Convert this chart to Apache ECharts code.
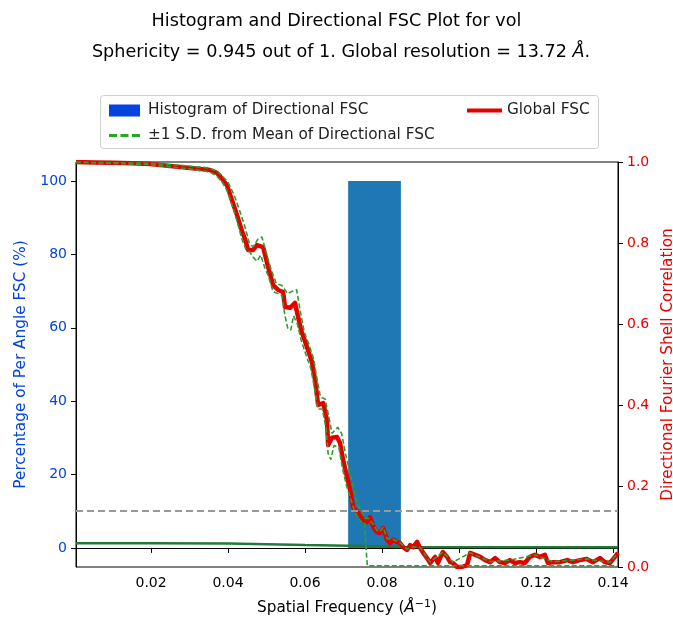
<!DOCTYPE html>
<html>
<head>
<meta charset="utf-8">
<script src="https://cdn.jsdelivr.net/npm/echarts@6/dist/echarts.min.js"></script>
<style>html,body{margin:0;padding:0;background:#fff;overflow:hidden}#c{width:673px;height:621px}</style>
</head>
<body>
<div id="c"></div>
<script>
// ---- data ----
const xTicks = [0.02, 0.04, 0.06, 0.08, 0.10, 0.12, 0.14];
const leftTicks = [0, 20, 40, 60, 80, 100];
const histBinStart = [0.0712];
const histBinEnd = [0.0849];
const histPercent = [100];
const threshold = 0.143;
const globalFSC = [[0.0005,1.0],[0.005,0.999],[0.01,0.998],[0.015,0.997],[0.0197,0.995],[0.0249,0.99],[0.0301,0.985],[0.0327,0.983],[0.0353,0.98],[0.0371,0.973],[0.0379,0.965],[0.0397,0.943],[0.041,0.906],[0.0423,0.87],[0.0436,0.83],[0.0444,0.81],[0.0452,0.783],[0.0465,0.783],[0.0475,0.795],[0.0491,0.79],[0.0504,0.741],[0.0517,0.696],[0.053,0.684],[0.0543,0.679],[0.0548,0.642],[0.0561,0.64],[0.0574,0.652],[0.0582,0.617],[0.0592,0.578],[0.0599,0.56],[0.0605,0.543],[0.0618,0.506],[0.0626,0.462],[0.0634,0.4],[0.0647,0.405],[0.0657,0.363],[0.066,0.301],[0.067,0.319],[0.0683,0.321],[0.0691,0.306],[0.0699,0.264],[0.0709,0.222],[0.0717,0.19],[0.0725,0.148],[0.0735,0.136],[0.0743,0.128],[0.0751,0.116],[0.0761,0.111],[0.0769,0.123],[0.0777,0.099],[0.0787,0.086],[0.0795,0.084],[0.0803,0.096],[0.0813,0.067],[0.0821,0.059],[0.0829,0.067],[0.0839,0.062],[0.0847,0.059],[0.0855,0.049],[0.0865,0.042],[0.0873,0.054],[0.0881,0.049],[0.0891,0.062],[0.0899,0.047],[0.0907,0.035],[0.0917,0.022],[0.0925,0.01],[0.0938,0.025],[0.0945,0.01],[0.0958,0.037],[0.0969,0.025],[0.0977,0.012],[0.0984,0.01],[0.0995,0.0],[0.1008,0.0],[0.1021,0.005],[0.1029,0.035],[0.1042,0.03],[0.1055,0.025],[0.1068,0.017],[0.1081,0.012],[0.1094,0.022],[0.1106,0.012],[0.1119,0.01],[0.1132,0.017],[0.1145,0.01],[0.1158,0.012],[0.1171,0.01],[0.1184,0.025],[0.1197,0.03],[0.121,0.025],[0.1223,0.03],[0.1231,0.01],[0.1244,0.012],[0.1262,0.012],[0.1281,0.017],[0.1296,0.012],[0.1314,0.017],[0.1332,0.02],[0.1348,0.012],[0.1366,0.022],[0.1379,0.012],[0.1392,0.01],[0.1405,0.025],[0.1413,0.035]];
const sdUpper = [[0.0005,1.0],[0.01,0.998],[0.02,0.997],[0.03,0.99],[0.0353,0.985],[0.0375,0.975],[0.04,0.95],[0.0415,0.92],[0.043,0.88],[0.0444,0.84],[0.0455,0.8],[0.0465,0.79],[0.0478,0.81],[0.0488,0.815],[0.0498,0.78],[0.051,0.74],[0.0525,0.7],[0.054,0.695],[0.0555,0.675],[0.0565,0.68],[0.0578,0.685],[0.0588,0.63],[0.0598,0.58],[0.061,0.55],[0.0622,0.515],[0.063,0.47],[0.064,0.42],[0.0652,0.415],[0.0662,0.37],[0.067,0.33],[0.0685,0.345],[0.0695,0.33],[0.0705,0.28],[0.0715,0.24],[0.0725,0.2],[0.0735,0.16],[0.0745,0.14],[0.0755,0.12],[0.0765,0.12],[0.0777,0.105],[0.0787,0.09],[0.0795,0.088],[0.0803,0.098],[0.0813,0.07],[0.0829,0.068],[0.0847,0.06],[0.0865,0.044],[0.0881,0.05],[0.0899,0.048],[0.0925,0.012],[0.0958,0.037],[0.0984,0.012],[0.1029,0.035],[0.1081,0.013],[0.1132,0.017],[0.1197,0.03],[0.1244,0.013],[0.1332,0.02],[0.1392,0.011],[0.1413,0.035]];
const sdLower = [[0.0005,0.999],[0.01,0.997],[0.02,0.993],[0.03,0.983],[0.0353,0.975],[0.0371,0.965],[0.0385,0.95],[0.0397,0.93],[0.041,0.895],[0.0423,0.855],[0.0436,0.81],[0.0446,0.785],[0.0455,0.78],[0.0465,0.765],[0.0475,0.755],[0.0485,0.77],[0.0495,0.74],[0.0504,0.72],[0.0517,0.68],[0.053,0.675],[0.054,0.67],[0.0548,0.62],[0.0555,0.59],[0.0563,0.585],[0.057,0.62],[0.058,0.6],[0.059,0.56],[0.0602,0.525],[0.0615,0.49],[0.0625,0.44],[0.0633,0.39],[0.0645,0.39],[0.0655,0.34],[0.066,0.28],[0.0667,0.265],[0.0675,0.3],[0.0688,0.295],[0.0698,0.24],[0.0708,0.2],[0.0718,0.17],[0.0728,0.14],[0.0738,0.12],[0.0748,0.11],[0.0755,0.11],[0.0758,0.05],[0.0762,0.003],[0.1413,0.003]];
const meanPercentLine = [[0.0005,1.3],[0.02,1.28],[0.04,1.2],[0.06,0.8],[0.0712,0.6],[0.0849,0.25],[0.1413,0.2]];

const chart = echarts.init(document.getElementById('c'));
const FONT = 'DejaVu Sans';
const LBL = 15.3;
const dashIcon = 'path://M0,0h8v3h-8z M11.5,0h8v3h-8z M23,0h8v3h-8z';
chart.setOption({
  animation: false,
  backgroundColor: '#fff',
  textStyle: { fontFamily: FONT },
  title: {
    left: 'center', top: 6, padding: 0,
    text: 'Histogram and Directional FSC Plot for vol\n{sp| }Sphericity = 0.945 out of 1. Global resolution = 13.72 {i|Å}.',
    textStyle: { fontFamily: FONT, fontSize: 17.6, fontWeight: 'normal', color: '#000', lineHeight: 31,
      rich: {
        i: { fontFamily: FONT, fontSize: 17.6, fontStyle: 'italic', color: '#000', lineHeight: 31 },
        sp: { fontFamily: FONT, fontSize: 17.6, width: 9, lineHeight: 31 }
      } }
  },
  graphic: [{ type: 'rect', left: 100, top: 95, shape: { width: 498, height: 53, r: 3 },
    style: { fill: '#fff', stroke: '#d0d0d0', lineWidth: 1 }, z: -1 }],
  legend: [{
    orient: 'vertical', left: 104, top: 98, itemWidth: 31, itemHeight: 12, itemGap: 10,
    textStyle: { fontFamily: FONT, fontSize: LBL, color: '#222', padding: [0, 0, 0, 3] },
    data: [
      { name: 'Histogram of Directional FSC', icon: 'rect', itemStyle: { color: '#0343df' } },
      { name: '±1 S.D. from Mean of Directional FSC', icon: dashIcon, itemStyle: { color: '#22aa22' } }
    ]
  }, {
    orient: 'vertical', left: 462, top: 98, itemWidth: 35, itemHeight: 4,
    textStyle: { fontFamily: FONT, fontSize: LBL, color: '#222', padding: [0, 0, 0, 0] },
    data: [{ name: 'Global FSC', icon: 'rect', itemStyle: { color: '#e50000' } }]
  }],
  grid: { left: 76, right: 55, top: 162, bottom: 54, show: true, borderColor: '#000', borderWidth: 1,
    backgroundColor: 'transparent', outerBoundsMode: 'none', containLabel: false },
  xAxis: {
    type: 'value', min: 0.0005, max: 0.1413,
    name: 'Spatial Frequency ({a|Å}{s|−1})', nameLocation: 'middle', nameGap: 32,
    nameTextStyle: { fontFamily: FONT, fontSize: LBL, color: '#000',
      rich: { a: { fontFamily: FONT, fontSize: LBL, fontStyle: 'italic', color: '#000' },
              s: { fontFamily: FONT, fontSize: 11, color: '#000', verticalAlign: 'bottom', padding: [0, 0, 8, 0] } } },
    splitLine: { show: false },
    axisLine: { lineStyle: { color: '#000' } },
    axisTick: { customValues: xTicks, length: 5, lineStyle: { color: '#000' } },
    axisLabel: { customValues: xTicks, fontFamily: FONT, fontSize: 14, color: '#000', margin: 9,
      formatter: v => v.toFixed(2) }
  },
  yAxis: [{
    type: 'value', min: -5.2, max: 105.2, position: 'left',
    name: 'Percentage of Per Angle FSC (%)', nameLocation: 'middle', nameGap: 47, nameRotate: 90,
    nameTextStyle: { fontFamily: FONT, fontSize: LBL, color: '#0343df' },
    splitLine: { show: false },
    axisLine: { show: true, lineStyle: { color: '#000' } },
    axisTick: { show: true, customValues: leftTicks, length: 5, lineStyle: { color: '#000' } },
    axisLabel: { customValues: leftTicks, fontFamily: FONT, fontSize: 14, color: '#0343df', margin: 9 }
  }, {
    type: 'value', min: 0, max: 1, interval: 0.2, position: 'right',
    name: 'Directional Fourier Shell Correlation', nameLocation: 'middle', nameGap: 40, nameRotate: 90,
    nameTextStyle: { fontFamily: FONT, fontSize: LBL, color: '#e50000' },
    splitLine: { show: false },
    axisLine: { show: true, lineStyle: { color: '#000' } },
    axisTick: { show: true, length: 5, lineStyle: { color: '#000' } },
    axisLabel: { fontFamily: FONT, fontSize: 14, color: '#e50000', margin: 9, formatter: v => v.toFixed(1) }
  }],
  series: [{
    name: 'Histogram of Directional FSC', type: 'custom', yAxisIndex: 0, z: 1,
    data: histBinStart.map((s, i) => [s, histBinEnd[i], histPercent[i]]),
    encode: { x: [0, 1], y: 2 },
    itemStyle: { color: '#1f77b4' },
    renderItem: function (params, api) {
      const p0 = api.coord([api.value(0), api.value(2)]);
      const p1 = api.coord([api.value(1), 0]);
      return { type: 'rect', shape: { x: p0[0], y: p0[1], width: p1[0] - p0[0], height: p1[1] - p0[1] },
        style: { fill: '#1f77b4' } };
    }
  }, {
    name: 'Mean percent', type: 'line', yAxisIndex: 0, z: 3, showSymbol: false, symbol: 'none',
    data: meanPercentLine, lineStyle: { color: '#217a35', width: 2.5 }, itemStyle: { color: '#217a35' }
  }, {
    name: 'threshold', type: 'line', yAxisIndex: 1, z: 2, symbol: 'none', data: [],
    markLine: { silent: true, symbol: 'none', label: { show: false },
      lineStyle: { color: '#999', width: 2, type: [7, 4] }, data: [{ yAxis: threshold }] }
  }, {
    name: 'Global FSC', type: 'line', yAxisIndex: 1, z: 4, showSymbol: false, symbol: 'none',
    data: globalFSC, lineStyle: { color: '#e50000', width: 4.5, join: 'round' }, itemStyle: { color: '#e50000' }
  }, {
    name: '±1 S.D. from Mean of Directional FSC', type: 'line', yAxisIndex: 1, z: 5, showSymbol: false, symbol: 'none',
    data: sdUpper, lineStyle: { color: '#2ca02c', width: 1.6, type: [5, 2.5] }, itemStyle: { color: '#2ca02c' }
  }, {
    name: '±1 S.D. from Mean of Directional FSC', type: 'line', yAxisIndex: 1, z: 5, showSymbol: false, symbol: 'none',
    data: sdLower, lineStyle: { color: '#2ca02c', width: 1.6, type: [5, 2.5] }, itemStyle: { color: '#2ca02c' }
  }]
});
</script>
</body>
</html>
